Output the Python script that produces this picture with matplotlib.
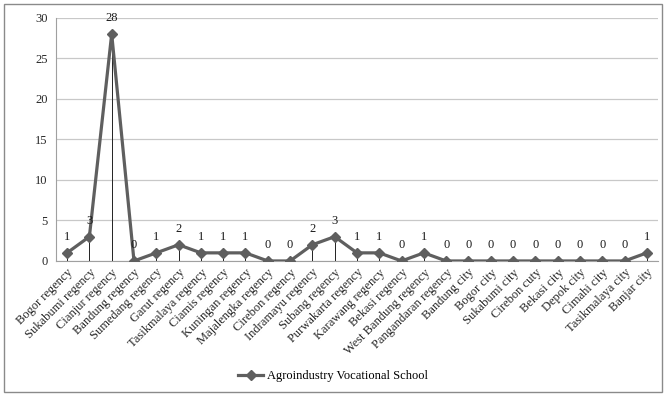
import matplotlib
matplotlib.use("Agg")
import matplotlib.pyplot as plt
from matplotlib.patches import Rectangle

categories = ["Bogor regency", "Sukabumi regency", "Cianjur regency", "Bandung regency",
              "Sumedang regency", "Garut regency", "Tasikmalaya regency", "Ciamis regency",
              "Kuningan regency", "Majalengka regency", "Cirebon regency", "Indramayu regency",
              "Subang regency", "Purwakarta regency", "Karawang regency", "Bekasi regency",
              "West Bandung regency", "Pangandaran regency", "Bandung city", "Bogor city",
              "Sukabumi city", "Cirebon cuty", "Bekasi city", "Depok city", "Cimahi city",
              "Tasikmalaya city", "Banjar city"]
values = [1, 3, 28, 0, 1, 2, 1, 1, 1, 0, 0, 2, 3, 1, 1, 0, 1, 0, 0, 0, 0, 0, 0, 0, 0, 0, 1]
series_name = "Agroindustry Vocational School"
yticks = [0, 5, 10, 15, 20, 25, 30]

plt.rcParams['font.family'] = ['Liberation Serif', 'DejaVu Serif']

fig = plt.figure(figsize=(6.66, 3.96), dpi=100)
ax = fig.add_axes([0.084, 0.341, 0.904, 0.614])

x = list(range(len(categories)))
line_color = "#5f5f5f"
ax.vlines(x, 0, values, color="#222222", linewidth=0.7, zorder=2)
ax.plot(x, values, color=line_color, linewidth=2.3, marker="D", markersize=5.5,
        markerfacecolor=line_color, markeredgecolor=line_color, label=series_name, zorder=3)

for xi, v in zip(x, values):
    ax.annotate(str(v), (xi, v), xytext=(0, 7), textcoords="offset points",
                ha="center", va="bottom", fontsize=9, color="#1a1a1a")

ax.set_xlim(-0.5, len(categories) - 0.5)
ax.set_ylim(0, 30)
ax.set_yticks(yticks)
ax.set_yticklabels([str(t) for t in yticks], fontsize=9, color="#262626")
ax.set_xticks(x)
ax.set_xticklabels(categories, rotation=45, ha="right", rotation_mode="anchor",
                   fontsize=9, color="#262626")
ax.tick_params(axis="both", length=0, pad=6)
ax.tick_params(axis="x", pad=4)
ax.grid(axis="y", color="#c8c8c8", linewidth=0.9)
ax.set_axisbelow(True)
for s in ["top", "right"]:
    ax.spines[s].set_visible(False)
ax.spines["left"].set_color("#a0a0a0")
ax.spines["bottom"].set_color("#a0a0a0")

fig.legend(loc="center", bbox_to_anchor=(0.5, 0.05), frameon=False, fontsize=9,
           handlelength=2.0, handletextpad=0.3)

fig.patches.append(Rectangle((0.006, 0.01), 0.988, 0.98, transform=fig.transFigure,
                             fill=False, edgecolor="#8a8a8a", linewidth=1.0))

fig.savefig("out.png", dpi=100)
